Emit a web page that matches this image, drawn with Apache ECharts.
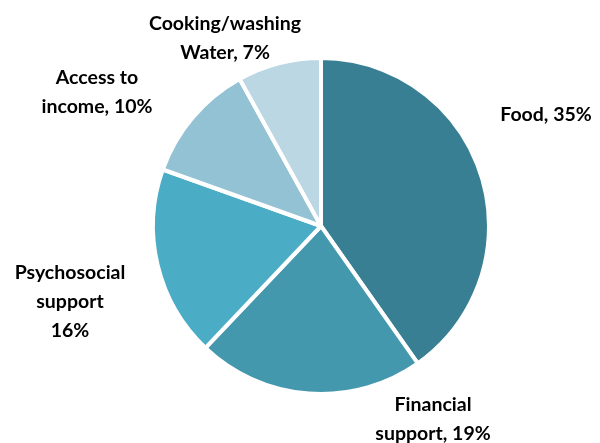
<!DOCTYPE html>
<html>
<head>
<meta charset="utf-8">
<script src="https://cdn.jsdelivr.net/npm/echarts@6/dist/echarts.min.js"></script>
<style>
  html, body { margin: 0; padding: 0; background: #fff; }
  #main { width: 600px; height: 443px; }
</style>
</head>
<body>
<div id="main"></div>
<script>
  // data
  var categories = ['Food', 'Financial support', 'Psychosocial support', 'Access to income', 'Cooking/washing Water'];
  var values = [35, 19, 16, 10, 7];
  var labelTexts = ['Food, 35%', 'Financial\nsupport, 19%', 'Psychosocial\nsupport\n16%', 'Access to\nincome, 10%', 'Cooking/washing\nWater, 7%'];

  var colors = ['#387f94', '#4498ae', '#4aacc5', '#93c2d4', '#bad7e3'];
  // label centres (px)
  var labelPos = [[546, 115], [433, 419], [70, 302], [97, 92], [225, 38]];

  var myChart = echarts.init(document.getElementById('main'));
  myChart.setOption({
    animation: false,
    series: [{
      type: 'pie',
      center: [321, 226],
      radius: 168,
      startAngle: 90,
      clockwise: true,
      data: categories.map(function (c, i) {
        return {
          name: c,
          value: values[i],
          itemStyle: { color: colors[i] },
          label: { formatter: labelTexts[i] }
        };
      }),
      itemStyle: { borderColor: '#fff', borderWidth: 4 },
      label: {
        show: true,
        position: 'outside',
        color: '#000',
        fontFamily: 'Lato',
        fontWeight: 'bold',
        fontSize: 19.5,
        lineHeight: 29,
        align: 'center',
        verticalAlign: 'middle',
        overflow: 'none',
        width: 300
      },
      labelLine: { show: false },
      labelLayout: function (p) {
        var pos = labelPos[p.dataIndex];
        return { x: pos[0], y: pos[1], align: 'center', verticalAlign: 'middle' };
      }
    }]
  });
</script>
</body>
</html>
